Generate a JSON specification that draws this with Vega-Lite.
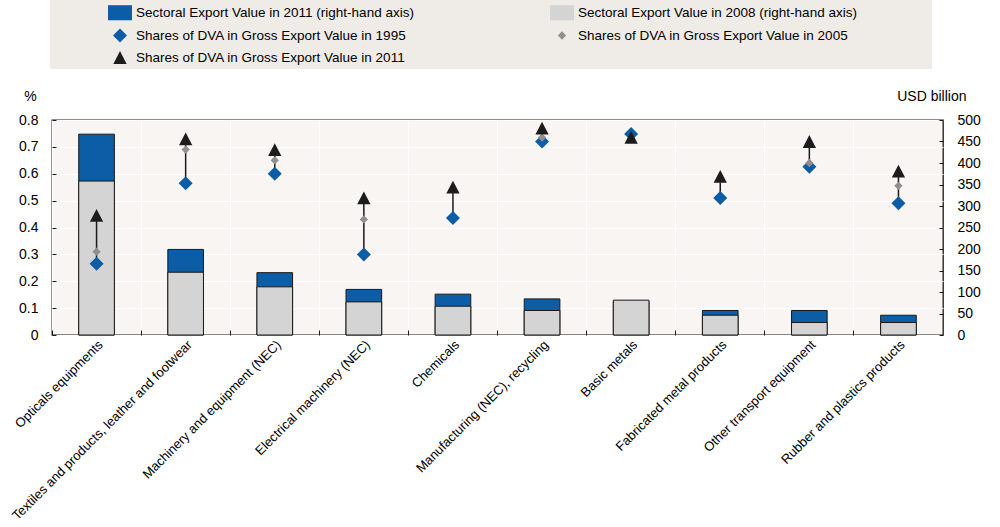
{
  "$schema": "https://vega.github.io/schema/vega-lite/v6.json",
  "width": 891,
  "height": 215,
  "autosize": "none",
  "padding": {"left": 52, "top": 120, "right": 57, "bottom": 192},
  "background": "white",
  "config": {
    "font": "Liberation Sans",
    "view": {"fill": "#f8f5f2", "stroke": "#1a1a1a", "strokeWidth": 1.3},
    "axis": {"labelFont": "Liberation Sans", "labelColor": "#000", "titleFont": "Liberation Sans", "titleColor": "#000", "titleFontWeight": "normal", "domain": false, "tickColor": "#1a1a1a"}
  },
  "data": {
    "values": [
      {"sector": "Opticals equipments", "e2011": 467, "e2008": 358, "d1995": 0.265, "d2005": 0.31, "d2011": 0.445},
      {"sector": "Textiles and products, leather and footwear", "e2011": 199, "e2008": 146, "d1995": 0.565, "d2005": 0.69, "d2011": 0.73},
      {"sector": "Machinery and equipment (NEC)", "e2011": 145, "e2008": 112, "d1995": 0.6, "d2005": 0.65, "d2011": 0.69},
      {"sector": "Electrical machinery (NEC)", "e2011": 106, "e2008": 77, "d1995": 0.3, "d2005": 0.43, "d2011": 0.51},
      {"sector": "Chemicals", "e2011": 95, "e2008": 67, "d1995": 0.435, "d2005": 0.54, "d2011": 0.55},
      {"sector": "Manufacturing (NEC), recycling", "e2011": 84, "e2008": 57, "d1995": 0.72, "d2005": 0.735, "d2011": 0.77},
      {"sector": "Basic metals", "e2011": 78, "e2008": 81, "d1995": 0.748, "d2005": 0.73, "d2011": 0.735},
      {"sector": "Fabricated metal products", "e2011": 57, "e2008": 46, "d1995": 0.51, "d2005": 0.58, "d2011": 0.59},
      {"sector": "Other transport equipment", "e2011": 57, "e2008": 29, "d1995": 0.626, "d2005": 0.64, "d2011": 0.72},
      {"sector": "Rubber and plastics products", "e2011": 46, "e2008": 29, "d1995": 0.49, "d2005": 0.555, "d2011": 0.61}
    ]
  },
  "resolve": {"scale": {"y": "independent"}, "axis": {"x": "independent"}},
  "layer": [
    {
      "transform": [{"fold": ["e2011", "e2008"], "as": ["series", "value"]}],
      "mark": {"type": "bar", "width": {"band": 0.4}, "stroke": "#1a1a1a", "strokeWidth": 1},
      "encoding": {
        "x": {
          "field": "sector", "type": "nominal", "sort": null,
          "scale": {"paddingInner": 0, "paddingOuter": 0},
          "axis": {"orient": "bottom", "title": null, "labelAngle": -45, "labelFontSize": 13, "labelPadding": 3, "ticks": false, "grid": false, "labelLimit": 400, "labelOverlap": false}
        },
        "y": {
          "field": "value", "type": "quantitative", "stack": null,
          "scale": {"domain": [0, 500], "nice": false},
          "axis": {"orient": "right", "values": [0, 50, 100, 150, 200, 250, 300, 350, 400, 450, 500], "grid": false, "tickSize": -4, "labelPadding": 18, "labelFontSize": 14, "title": "USD billion", "titleAngle": 0, "titleFontSize": 14, "titleAlign": "right", "titleBaseline": "middle", "titleX": 23, "titleY": -24}
        },
        "color": {
          "field": "series", "type": "nominal",
          "scale": {"domain": ["e2011", "e2008", "d1995", "d2005", "d2011"], "range": ["#0c5da5", "#d4d4d4", "#0c5da5", "#8f8f8f", "#1c1c1c"]}
        }
      }
    },
    {
      "mark": {"type": "rule", "color": "#1a1a1a", "strokeWidth": 1.5},
      "encoding": {
        "x": {
          "field": "sector", "type": "nominal", "sort": null,
          "axis": {"orient": "bottom", "title": null, "labels": false, "bandPosition": 0, "ticks": true, "tickSize": -5, "grid": true, "gridColor": "#ffffff", "gridWidth": 1}
        },
        "y": {
          "field": "d1995", "type": "quantitative",
          "scale": {"domain": [0, 0.8], "nice": false},
          "axis": {"orient": "left", "values": [0, 0.1, 0.2, 0.3, 0.4, 0.5, 0.6, 0.7, 0.8], "format": ".1~f", "grid": true, "gridColor": "#ffffff", "gridWidth": 1, "tickSize": -4, "labelPadding": 18, "labelFontSize": 14, "title": "%", "titleAngle": 0, "titleFontSize": 14, "titleAlign": "center", "titleBaseline": "middle", "titleX": -22, "titleY": -24}
        },
        "y2": {"field": "d2011"}
      }
    },
    {
      "transform": [{"fold": ["d1995", "d2005", "d2011"], "as": ["series", "value"]}],
      "mark": {"type": "point", "filled": true, "opacity": 1, "size": 256},
      "encoding": {
        "x": {"field": "sector", "type": "nominal", "sort": null, "axis": null},
        "y": {"field": "value", "type": "quantitative", "scale": {"domain": [0, 0.8], "nice": false}, "axis": null},
        "color": {
          "field": "series", "type": "nominal",
          "scale": {"domain": ["e2011", "e2008", "d1995", "d2005", "d2011"], "range": ["#0c5da5", "#d4d4d4", "#0c5da5", "#8f8f8f", "#1c1c1c"]},
          "legend": {
            "orient": "none", "legendX": -2, "legendY": -120, "columns": 2, "direction": "horizontal", "title": null,
            "fillColor": "#efece8", "padding": 4.5, "symbolSize": 256, "symbolStrokeWidth": 0,
            "symbolOffset": 57.5, "labelOffset": 8, "columnPadding": 82, "rowPadding": 7,
            "labelFont": "Liberation Sans", "labelFontSize": 13.5, "labelColor": "#000", "labelLimit": 0,
            "labelExpr": "datum.label == 'e2011' ? 'Sectoral Export Value in 2011 (right-hand axis)' : datum.label == 'e2008' ? 'Sectoral Export Value in 2008 (right-hand axis)' : datum.label == 'd1995' ? 'Shares of DVA in Gross Export Value in 1995' : datum.label == 'd2005' ? 'Shares of DVA in Gross Export Value in 2005' : 'Shares of DVA in Gross Export Value in 2011'",
            "encode": {"symbols": {"update": {"stroke": {"value": "#1a1a1a"}, "strokeWidth": {"signal": "datum.value === 'e2011' || datum.value === 'e2008' ? 1 : 0"}}}}
          }
        },
        "shape": {
          "field": "series", "type": "nominal",
          "scale": {"domain": ["e2011", "e2008", "d1995", "d2005", "d2011"], "range": ["M-1.5,-0.94H1.5V0.94H-1.5Z", "M-1.5,-0.94H1.5V0.94H-1.5Z", "M0,-0.875L0.875,0L0,0.875L-0.875,0Z", "M0,-0.52L0.52,0L0,0.52L-0.52,0ZM45.6,0", "M0,-0.8L0.83,0.8L-0.83,0.8Z"]}
        }
      }
    }
  ]
}
